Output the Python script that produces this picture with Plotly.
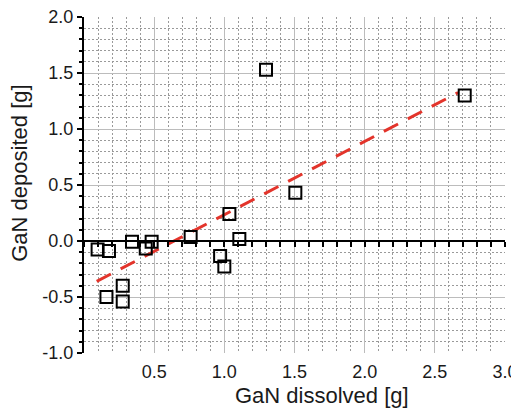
import plotly.graph_objects as go

# Data
gan_dissolved = [0.097, 0.178, 0.16, 0.276, 0.276, 0.342, 0.44, 0.482, 0.76,
                 0.97, 1.0, 1.036, 1.107, 1.297, 1.506, 2.713]
gan_deposited = [-0.075, -0.089, -0.50, -0.40, -0.54, -0.006, -0.068, -0.006, 0.035,
                 -0.133, -0.228, 0.242, 0.018, 1.53, 0.43, 1.30]
fit_x = [0.0905, 2.666]
fit_y = [-0.361, 1.325]

x_tickvals = [0.5, 1.0, 1.5, 2.0, 2.5, 3.0]
x_ticktext = ["0.5", "1.0", "1.5", "2.0", "2.5", "3.0"]
y_tickvals = [-1.0, -0.5, 0.0, 0.5, 1.0, 1.5, 2.0]
y_ticktext = ["-1.0", "-0.5", "0.0", "0.5", "1.0", "1.5", "2.0"]
x_title = "GaN dissolved [g]"
y_title = "GaN deposited [g]"

# grid positions (interior only; the reference has no grid on the plot edges)
x_grid_major = [0.5, 1.0, 1.5, 2.0, 2.5]
y_grid_major = [-0.5, 0.0, 0.5, 1.0, 1.5]
x_grid_minor = [round(i * 0.1, 1) for i in range(1, 30) if i % 5]
y_grid_minor = [round(-1 + i * 0.1, 1) for i in range(1, 30) if i % 5]

FONT = "Liberation Sans, Arial, sans-serif"
TXT = "#1a1a1a"
grid_major = "#bcbcbc"
grid_minor = "#9a9a9a"

fig = go.Figure()
# main subplot (x, y): fit line
fig.add_trace(go.Scatter(
    x=fit_x, y=fit_y, mode="lines", xaxis="x", yaxis="y",
    line=dict(color="#e3342b", width=3, dash="16px,11px"),
    showlegend=False, hoverinfo="skip"))
# markers on the tick axis overlay (x2, y)
fig.add_trace(go.Scatter(
    x=gan_dissolved, y=gan_deposited, mode="markers", xaxis="x2", yaxis="y",
    marker=dict(symbol="square-open", size=12, color="black",
                line=dict(color="black", width=2)),
    showlegend=False))
# empty traces to activate the label x-axis and the grid y-axis
fig.add_trace(go.Scatter(x=[], y=[], xaxis="x3", yaxis="y", showlegend=False, hoverinfo="skip"))
fig.add_trace(go.Scatter(x=[], y=[], xaxis="x", yaxis="y2", showlegend=False, hoverinfo="skip"))

fig.update_layout(
    template="none",
    width=511, height=407,
    margin=dict(l=76, r=14, t=9, b=62),
    paper_bgcolor="white", plot_bgcolor="white",
    font=dict(family=FONT, color=TXT),
    # grid-only x axis
    xaxis=dict(
        range=[0, 3], automargin=False,
        tickmode="array", tickvals=x_grid_major, showticklabels=False, ticks="",
        showline=False, zeroline=False,
        showgrid=True, gridcolor=grid_major, gridwidth=1,
        minor=dict(tickmode="array", tickvals=x_grid_minor, showgrid=True,
                   gridcolor=grid_minor, griddash="2px,2px", gridwidth=1, ticks=""),
    ),
    # axis line with ticks at y = 0
    xaxis2=dict(
        overlaying="x", anchor="free", position=1/3, side="bottom",
        range=[0, 3], dtick=0.5, tick0=0, automargin=False,
        showticklabels=False, showgrid=False, zeroline=False,
        showline=True, linecolor="black", linewidth=2,
        ticks="outside", ticklen=5, tickwidth=1.5, tickcolor="black",
        minor=dict(dtick=0.1, ticks="outside", ticklen=5, tickwidth=1.5,
                   tickcolor="black", showgrid=False),
    ),
    # tick labels at the bottom
    xaxis3=dict(
        overlaying="x", anchor="y", side="bottom",
        range=[0, 3], automargin=False, ticklabeloverflow="allow",
        tickmode="array", tickvals=x_tickvals, ticktext=x_ticktext,
        tickfont=dict(size=18, family=FONT, color=TXT),
        ticks="outside", ticklen=2, tickcolor="rgba(0,0,0,0)",
        showline=False, zeroline=False, showgrid=False,
    ),
    yaxis=dict(
        range=[-1, 2], automargin=False, ticklabeloverflow="allow",
        tickmode="array", tickvals=y_tickvals, ticktext=y_ticktext,
        tickfont=dict(size=18, family=FONT, color=TXT),
        ticks="outside", ticklen=5, tickwidth=1.5, tickcolor="black",
        showline=True, linecolor="black", linewidth=2,
        zeroline=False, showgrid=False,
        minor=dict(dtick=0.1, showgrid=False, ticks="outside", ticklen=3,
                   tickwidth=1.5, tickcolor="black"),
    ),
    # grid-only y axis
    yaxis2=dict(
        overlaying="y", anchor="x", side="left",
        range=[-1, 2], automargin=False,
        tickmode="array", tickvals=y_grid_major, showticklabels=False, ticks="",
        showline=False, zeroline=False,
        showgrid=True, gridcolor=grid_major, gridwidth=1,
        minor=dict(tickmode="array", tickvals=y_grid_minor, showgrid=True,
                   gridcolor=grid_minor, griddash="2px,2px", gridwidth=1, ticks=""),
    ),
    annotations=[
        dict(text=x_title, xref="paper", yref="paper", x=0.565, y=-0.125,
             xanchor="center", yanchor="middle", showarrow=False,
             font=dict(size=22, family=FONT, color=TXT)),
        dict(text=y_title, xref="paper", yref="paper", x=-0.154, y=0.534,
             xanchor="center", yanchor="middle", showarrow=False, textangle=-90,
             font=dict(size=22, family=FONT, color=TXT)),
    ],
)

fig.write_html("out.html")
